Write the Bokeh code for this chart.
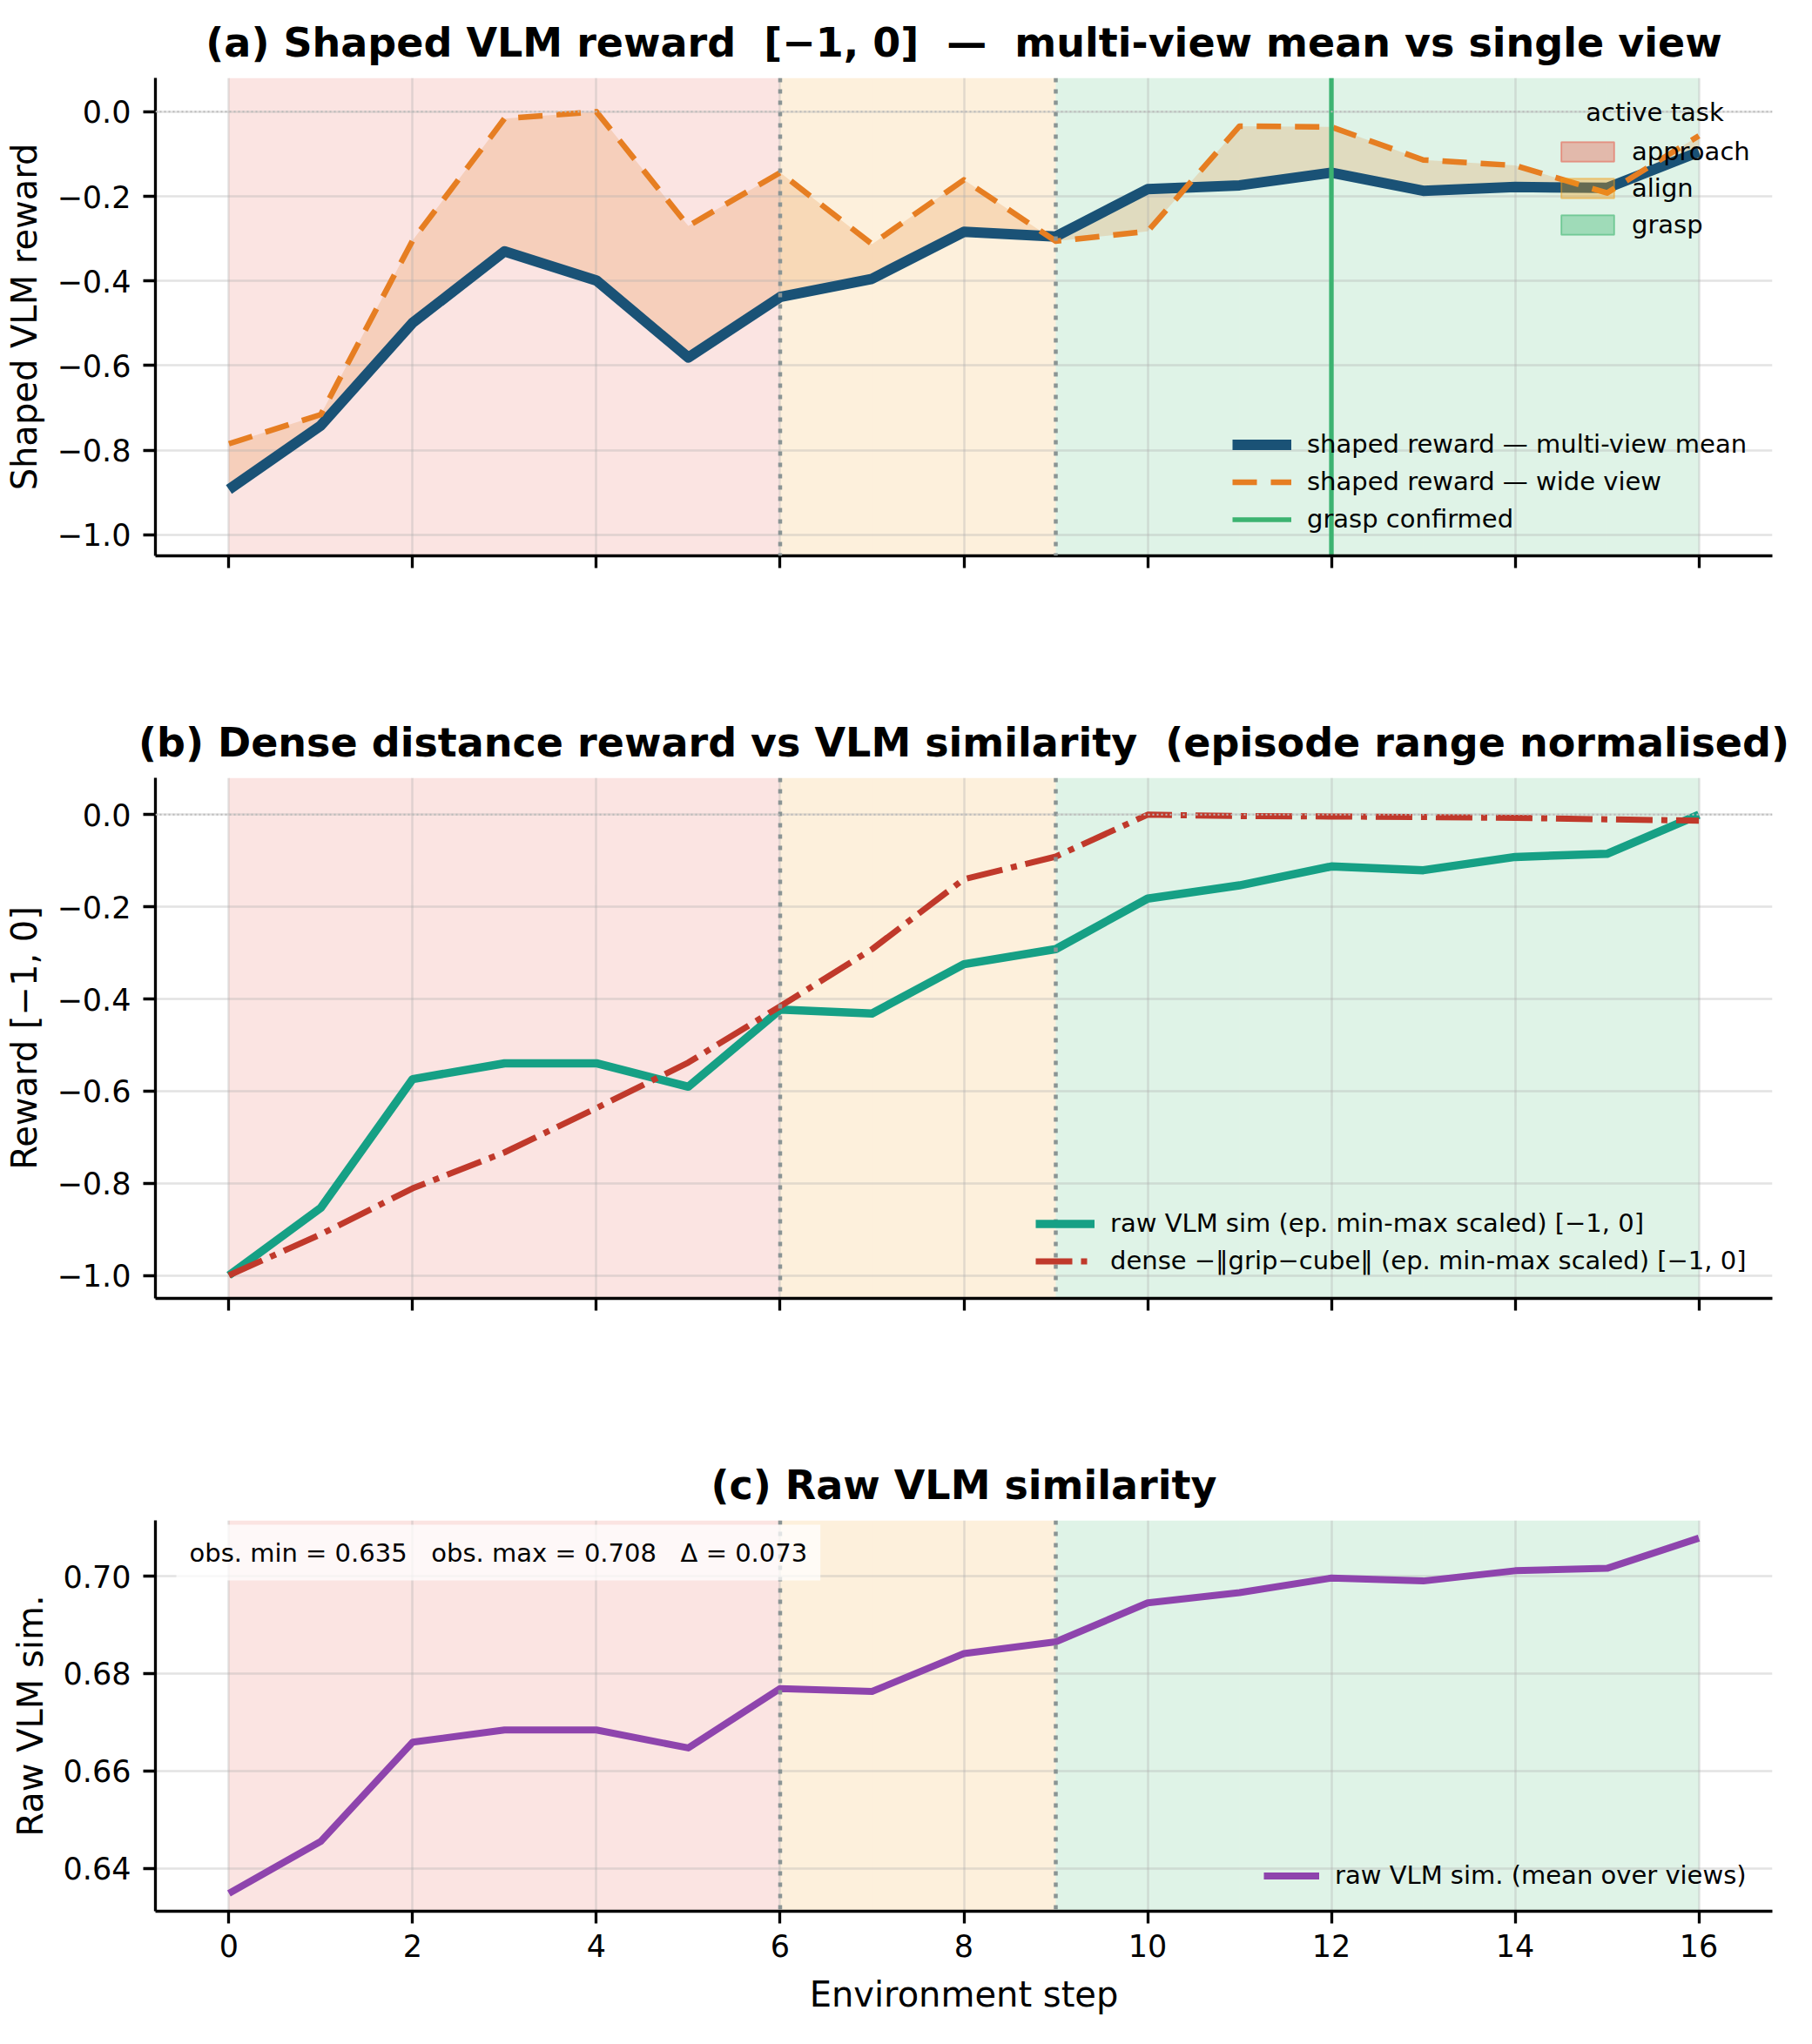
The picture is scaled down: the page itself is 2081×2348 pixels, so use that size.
from bokeh.plotting import figure
from bokeh.models import Range1d, FixedTicker, Span, Legend, LegendItem, Label
from bokeh.layouts import column
from bokeh.embed import file_html
from bokeh.resources import INLINE

# ---------------------------------------------------------------- data
steps = list(range(17))
shaped_multiview = [-0.893, -0.742, -0.499, -0.330, -0.399, -0.581, -0.438, -0.395,
                    -0.284, -0.295, -0.183, -0.174, -0.144, -0.187, -0.178, -0.180, -0.095]
shaped_wide = [-0.785, -0.716, -0.304, -0.016, 0.0, -0.270, -0.144, -0.313,
               -0.161, -0.306, -0.283, -0.034, -0.036, -0.114, -0.127, -0.192, -0.057]
raw_sim = [0.6348, 0.6455, 0.6659, 0.6684, 0.6684, 0.6647, 0.6769, 0.6763,
           0.6841, 0.6865, 0.6945, 0.6966, 0.6996, 0.6990, 0.7011, 0.7016, 0.7078]
dense_scaled = [-1.0, -0.911, -0.811, -0.733, -0.637, -0.538, -0.416, -0.292,
                -0.140, -0.091, 0.0, -0.003, -0.004, -0.005, -0.007, -0.010, -0.013]
# active task for each step interval [i, i+1)
active_task = ["approach"] * 6 + ["align"] * 3 + ["grasp"] * 7
task_names = ["approach", "align", "grasp"]
grasp_confirmed_step = 12

x_ticks = [0, 2, 4, 6, 8, 10, 12, 14, 16]
reward_ticks = [-1.0, -0.8, -0.6, -0.4, -0.2, 0.0]
reward_tick_labels = ["\u22121.0", "\u22120.8", "\u22120.6", "\u22120.4", "\u22120.2", "0.0"]
sim_ticks = [0.64, 0.66, 0.68, 0.70]
sim_tick_labels = ["0.64", "0.66", "0.68", "0.70"]

# ---------------------------------------------------------------- styling
FONT = "DejaVu Sans"
TASK_COLORS = {"approach": "#e74c3c", "align": "#f39c12", "grasp": "#27ae60"}
C_MEAN = "#1a5276"
C_WIDE = "#e67e22"
C_GRASP = "#3cb371"
C_RAW = "#16a085"
C_DENSE = "#c0392b"
C_SIM = "#8e44ad"
W = 2081
REWARD_LO, REWARD_HI = -1.05, 0.08

# episode min-max scaling of the raw similarity into [-1, 0]
sim_lo, sim_hi = min(raw_sim), max(raw_sim)
raw_scaled = [(v - sim_lo) / (sim_hi - sim_lo) - 1.0 for v in raw_sim]

x_range = Range1d(-0.8, 16.8)


def make_fig(title, height, top, frame_h):
    p = figure(width=W, height=height, x_range=x_range, output_backend="svg",
               toolbar_location=None, min_border_left=178, min_border_right=46,
               min_border_top=top, min_border_bottom=height - top - frame_h)
    p.title.text = title
    p.title.align = "center"
    p.title.text_font = FONT
    p.title.text_font_size = "46px"
    p.title.text_font_style = "bold"
    p.title.text_color = "black"
    p.title.standoff = 28
    p.outline_line_color = None
    p.background_fill_color = "white"
    p.border_fill_color = "white"
    for ax in (p.xaxis[0], p.yaxis[0]):
        ax.axis_line_width = 3.3
        ax.axis_line_color = "black"
        ax.major_tick_line_width = 3.3
        ax.major_tick_line_color = "black"
        ax.major_tick_out = 14
        ax.major_tick_in = 0
        ax.minor_tick_line_color = None
        ax.major_label_text_font = FONT
        ax.major_label_text_font_size = "35px"
        ax.major_label_text_color = "black"
        ax.axis_label_text_font = FONT
        ax.axis_label_text_font_size = "40px"
        ax.axis_label_text_font_style = "normal"
        ax.axis_label_text_color = "black"
    p.xaxis.ticker = FixedTicker(ticks=x_ticks)
    p.xaxis.major_label_standoff = 12
    p.yaxis.major_label_standoff = 14
    p.yaxis.axis_label_standoff = 12
    for g in (p.xgrid[0], p.ygrid[0]):
        g.grid_line_color = "#b0b0b0"
        g.grid_line_alpha = 0.35
        g.grid_line_width = 2.5
    # shaded background: one strip per step, coloured by the active task
    p.vstrip(x0=steps[:-1], x1=steps[1:],
             fill_color=[TASK_COLORS[t] for t in active_task],
             fill_alpha=0.15, line_color=None, level="image")
    # phase boundaries
    for i in range(1, len(active_task)):
        if active_task[i] != active_task[i - 1]:
            p.add_layout(Span(location=steps[i], dimension="height", line_color="#8a9494",
                              line_width=4.5, line_dash="5 8"))
    return p


def style_legend(lg, glyph_w, glyph_h, spacing, standoff):
    lg.glyph_width = glyph_w
    lg.glyph_height = glyph_h
    lg.label_height = glyph_h
    lg.spacing = spacing
    lg.label_standoff = standoff
    lg.padding = 10
    lg.margin = 0
    lg.label_text_font = FONT
    lg.label_text_font_size = "29px"
    lg.label_text_color = "black"
    lg.background_fill_alpha = 0
    lg.border_line_color = None


# ---------------------------------------------------------------- (a)
pa = make_fig("(a) Shaped VLM reward\u00a0\u00a0[\u22121, 0]\u00a0\u00a0\u2014\u00a0\u00a0multi-view mean vs single view",
              760, 89, 549)
pa.y_range = Range1d(REWARD_LO, REWARD_HI)
pa.yaxis.ticker = FixedTicker(ticks=reward_ticks)
pa.yaxis.major_label_overrides = dict(zip(reward_ticks, reward_tick_labels))
pa.yaxis.axis_label = "Shaped VLM reward"
pa.xaxis.major_label_text_color = None
pa.add_layout(Span(location=0, dimension="width", line_color="#bbbbbb", line_width=2, line_dash="2 3"))

pa.varea(x=steps, y1=shaped_multiview, y2=shaped_wide, fill_color=C_WIDE, fill_alpha=0.2, level="image")
r_mean = pa.line(steps, shaped_multiview, line_color=C_MEAN, line_width=12, line_join="round")
r_wide = pa.line(steps, shaped_wide, line_color=C_WIDE, line_width=6.5, line_dash="28 16", line_join="round")
# vertical marker at the grasp-confirmed step, spanning the full reward axis
r_grasp = pa.line([grasp_confirmed_step, grasp_confirmed_step], [REWARD_LO, REWARD_HI],
                  line_color=C_GRASP, line_width=5.3)

# legend swatches for the task phases (not drawn in the plot area)
task_renderers = []
for t in task_names:
    idx = [i for i, a in enumerate(active_task) if a == t]
    r = pa.quad(left=[steps[min(idx)]], right=[steps[max(idx) + 1]], top=[REWARD_HI], bottom=[REWARD_LO],
                fill_color=TASK_COLORS[t], fill_alpha=0.35, line_color=TASK_COLORS[t], line_alpha=0.45,
                line_width=2)
    r.visible = False
    task_renderers.append(r)

leg_lines = Legend(items=[LegendItem(label="shaped reward \u2014 multi-view mean", renderers=[r_mean]),
                          LegendItem(label="shaped reward \u2014 wide view", renderers=[r_wide]),
                          LegendItem(label="grasp confirmed", renderers=[r_grasp])],
                   location=(1237, 25))
style_legend(leg_lines, 68, 31, 9, 18)
leg_tasks = Legend(items=[LegendItem(label=t, renderers=[r]) for t, r in zip(task_names, task_renderers)],
                   location=(1607, 363))
style_legend(leg_tasks, 76, 28, 8, 13)
pa.add_layout(leg_lines)
pa.add_layout(leg_tasks)
pa.add_layout(Label(x=1722, y=510, x_units="screen", y_units="screen", text="active task",
                    text_align="center", text_baseline="middle", text_font=FONT,
                    text_font_size="29px", text_color="black"))

# ---------------------------------------------------------------- (b)
pb = make_fig("(b) Dense distance reward vs VLM similarity\u00a0\u00a0(episode range normalised)",
              880, 133, 598)
pb.y_range = Range1d(REWARD_LO, REWARD_HI)
pb.yaxis.ticker = FixedTicker(ticks=reward_ticks)
pb.yaxis.major_label_overrides = dict(zip(reward_ticks, reward_tick_labels))
pb.yaxis.axis_label = "Reward [\u22121, 0]"
pb.xaxis.major_label_text_color = None
r_raw = pb.line(steps, raw_scaled, line_color=C_RAW, line_width=9.5, line_join="round")
r_dense = pb.line(steps, dense_scaled, line_color=C_DENSE, line_width=7, line_dash="42 10 7 10",
                  line_join="round")
pb.add_layout(Span(location=0, dimension="width", line_color="#bbbbbb", line_width=2, line_dash="2 3"))
leg_b = Legend(items=[LegendItem(label="raw VLM sim (ep. min-max scaled) [\u22121, 0]", renderers=[r_raw]),
                      LegendItem(label="dense \u2212\u2016grip\u2212cube\u2016 (ep. min-max scaled) [\u22121, 0]",
                                 renderers=[r_dense])],
               location=(1011, 26))
style_legend(leg_b, 68, 31, 9, 18)
pb.add_layout(leg_b)

# ---------------------------------------------------------------- (c)
pc = make_fig("(c) Raw VLM similarity", 708, 106, 449)
pad = 0.05 * (sim_hi - sim_lo)
pc.y_range = Range1d(sim_lo - pad, sim_hi + pad)
pc.yaxis.ticker = FixedTicker(ticks=sim_ticks)
pc.yaxis.major_label_overrides = dict(zip(sim_ticks, sim_tick_labels))
pc.yaxis.axis_label = "Raw VLM sim."
pc.xaxis.axis_label = "Environment step"
pc.xaxis.axis_label_standoff = 17
r_sim = pc.line(steps, raw_sim, line_color=C_SIM, line_width=8, line_join="round")
leg_c = Legend(items=[LegendItem(label="raw VLM sim. (mean over views)", renderers=[r_sim])],
               location=(1273, 24))
style_legend(leg_c, 64, 31, 9, 18)
pc.add_layout(leg_c)

stats = (f"obs. min = {sim_lo:.3f}\u00a0\u00a0\u00a0obs. max = {sim_hi:.3f}"
         f"\u00a0\u00a0\u00a0\u0394 = {sim_hi - sim_lo:.3f}")
pc.add_layout(Label(x=24, y=412, x_units="screen", y_units="screen", text=stats,
                    text_align="left", text_baseline="middle", text_font=FONT,
                    text_font_size="29px", text_color="black",
                    background_fill_color="white", background_fill_alpha=0.75, padding=15))

layout = column(pa, pb, pc, spacing=0)
open("out.html", "w").write(file_html(layout, INLINE))
